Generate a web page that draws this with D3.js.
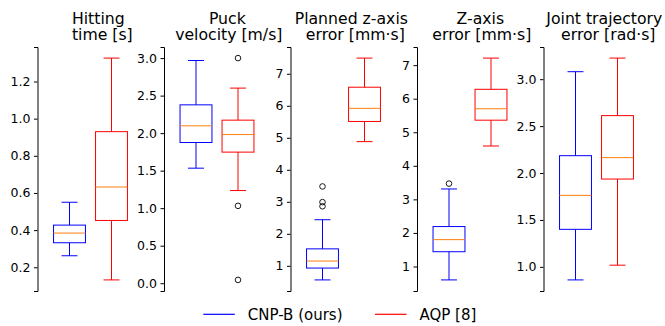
<!DOCTYPE html>
<html>
<head>
<meta charset="utf-8">
<script src="https://cdn.jsdelivr.net/npm/d3@7"></script>
<style>
  body { margin: 0; background: #fff; }
  text { font-family: "DejaVu Sans", sans-serif; fill: #000; }
</style>
</head>
<body>
<svg id="chart" width="665" height="326"></svg>
<script>
// panel titles (two lines each)
const titleTop = ["Hitting", "Puck", "Planned z-axis", "Z-axis", "Joint trajectory"];
const titleBottom = ["time [s]", "velocity [m/s]", "error [mm·s]", "error [mm·s]", "error [rad·s]"];
const titleTopShift = [-2.5, 0, -2.5, 0, -2.5];

// tick values per panel
const ticks = [
  [0.2, 0.4, 0.6, 0.8, 1.0, 1.2],
  [0.0, 0.5, 1.0, 1.5, 2.0, 2.5, 3.0],
  [1, 2, 3, 4, 5, 6, 7],
  [1, 2, 3, 4, 5, 6, 7],
  [1.0, 1.5, 2.0, 2.5, 3.0]
];
const tickDigits = [1, 1, 0, 0, 1];

// box stats: [lower whisker, q1, median, q3, upper whisker]
const cnpStats = [
  [0.262, 0.332, 0.384, 0.427, 0.55],
  [1.533, 1.875, 2.097, 2.377, 2.968],
  [0.56, 0.93, 1.15, 1.53, 2.44],
  [0.60, 1.44, 1.80, 2.19, 3.31],
  [0.861, 1.40, 1.762, 2.185, 3.08]
];
const aqpStats = [
  [0.132, 0.452, 0.632, 0.93, 1.326],
  [1.235, 1.747, 1.981, 2.173, 2.6],
  [4.88, 5.51, 5.92, 6.58, 7.49],
  [4.59, 5.36, 5.70, 6.28, 7.21],
  [1.018, 1.936, 2.164, 2.612, 3.225]
];
const cnpOutliers = [[], [], [3.48, 2.99, 2.86], [3.47], []];
const aqpOutliers = [[], [3.0, 1.031, 0.044], [], [], []];

const series = ["CNP-B (ours)", "AQP [8]"];
const colors = ["#0000ff", "#ff0000"];
const medianColor = "#ff7f0e";

const svg = d3.select("#chart");
const plotTop = 47, plotBottom = 291;
const axisX0 = 37.5, step = 126.5;

titleTop.forEach((t, i) => {
  const ax = axisX0 + i * step;
  const g = svg.append("g");

  // y scale with 5% padding like matplotlib autoscale
  const vals = cnpStats[i].concat(aqpStats[i], cnpOutliers[i], aqpOutliers[i]);
  const lo = d3.min(vals), hi = d3.max(vals), pad = (hi - lo) * 0.05;
  const y = d3.scaleLinear().domain([lo - pad, hi + pad]).range([plotBottom, plotTop]);
  const x = d3.scaleLinear().domain([0.5, 2.5]).range([ax + 11, ax + 95]);
  const bw = x(1.38) - x(0.62);

  const axis = g.append("g")
    .attr("transform", `translate(${ax},0)`)
    .call(d3.axisLeft(y).tickValues(ticks[i]).tickSizeOuter(0)
      .tickSize(3.5).tickPadding(3.5).tickFormat(d3.format("." + tickDigits[i] + "f")));
  axis.selectAll("text").style("font-size", "12.5px").style("font-family", "DejaVu Sans");
  axis.selectAll("line, path").attr("stroke", "#000");

  // titles
  g.append("text").attr("x", ax + 63.3 + titleTopShift[i]).attr("y", 24.2).attr("text-anchor", "middle")
    .style("font-size", "15.7px").text(t);
  g.append("text").attr("x", ax + 64.8).attr("y", 39.7).attr("text-anchor", "middle")
    .style("font-size", "15.7px").text(titleBottom[i]);

  [cnpStats[i], aqpStats[i]].forEach((s, k) => {
    const cx = x(k + 1), c = colors[k];
    const b = g.append("g").attr("fill", "none").attr("stroke-width", 1);
    b.append("line").attr("x1", cx).attr("x2", cx).attr("y1", y(s[3])).attr("y2", y(s[4])).attr("stroke", c);
    b.append("line").attr("x1", cx).attr("x2", cx).attr("y1", y(s[1])).attr("y2", y(s[0])).attr("stroke", c);
    [s[0], s[4]].forEach(v => {
      b.append("line").attr("x1", cx - bw / 4).attr("x2", cx + bw / 4)
        .attr("y1", y(v)).attr("y2", y(v)).attr("stroke", c);
    });
    b.append("rect").attr("x", cx - bw / 2).attr("width", bw)
      .attr("y", y(s[3])).attr("height", y(s[1]) - y(s[3])).attr("stroke", c);
    b.append("line").attr("x1", cx - bw / 2).attr("x2", cx + bw / 2)
      .attr("y1", y(s[2])).attr("y2", y(s[2])).attr("stroke", medianColor);
    const outs = k === 0 ? cnpOutliers[i] : aqpOutliers[i];
    b.selectAll("circle").data(outs).join("circle")
      .attr("cx", cx).attr("cy", d => y(d)).attr("r", 2.8)
      .attr("stroke", "#000").attr("stroke-width", 0.9);
  });
});

// legend
const legendX = [203.3, 375];
series.forEach((name, k) => {
  svg.append("line").attr("x1", legendX[k]).attr("x2", legendX[k] + 31.5)
    .attr("y1", 314.3).attr("y2", 314.3).attr("stroke", colors[k]).attr("stroke-width", 1.2);
  svg.append("text").attr("x", legendX[k] + 44.5).attr("y", 320)
    .style("font-size", "15px").text(name);
});
</script>
</body>
</html>
